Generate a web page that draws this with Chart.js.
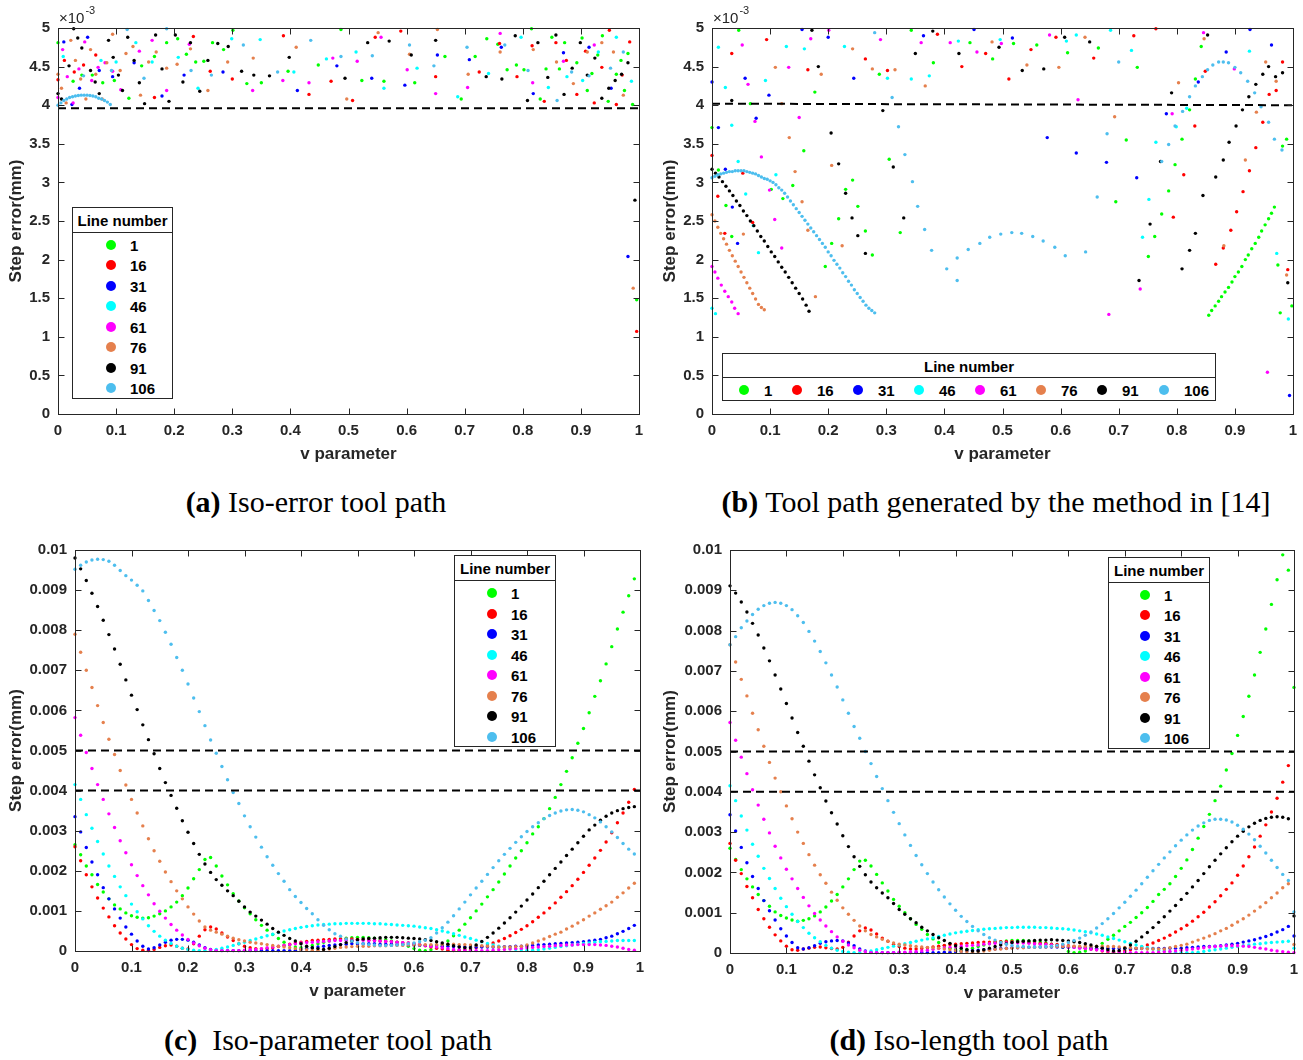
<!DOCTYPE html>
<html><head><meta charset="utf-8">
<script src="https://cdn.jsdelivr.net/npm/chart.js@4.4.1/dist/chart.umd.min.js"></script>
<style>
body{margin:0;background:#fff;width:1303px;height:1060px;position:relative;overflow:hidden;font-family:"Liberation Sans",Arial,sans-serif;}
canvas{position:absolute;}
.leg{position:absolute;background:#fff;border:1px solid #262626;box-sizing:border-box;font-weight:bold;font-size:15px;color:#000;}
.leg .hd{position:absolute;left:0;right:0;text-align:center;transform:translateY(-50%);white-space:nowrap;}
.leg .dv{position:absolute;left:0;right:0;border-top:1px solid #262626;}
.leg .mk{position:absolute;width:10px;height:10px;border-radius:50%;transform:translate(-50%,-50%);}
.leg .tx{position:absolute;transform:translateY(-50%);white-space:nowrap;}
.cap{position:absolute;font-family:"Liberation Serif","Times New Roman",serif;font-size:30px;transform:translate(-50%,-50%);white-space:nowrap;color:#000;}
</style></head><body>
<canvas id="ca" width="650" height="470" style="left:0;top:0"></canvas>
<canvas id="cb" width="653" height="470" style="left:650px;top:0"></canvas>
<canvas id="cc" width="650" height="480" style="left:0;top:530px"></canvas>
<canvas id="cd" width="653" height="480" style="left:650px;top:530px"></canvas>
<div class="cap" style="left:316px;top:502px"><b>(a)</b> Iso-error tool path</div>
<div class="cap" style="left:996px;top:502px"><b>(b)</b> Tool path generated by the method in [14]</div>
<div class="cap" style="left:328px;top:1040px"><b>(c)</b>&nbsp; Iso-parameter tool path</div>
<div class="cap" style="left:969px;top:1040px"><b>(d)</b> Iso-length tool path</div>
<script>
// ---------- shared categories ----------
const lineNumbers = ['1','16','31','46','61','76','91','106'];
const seriesColors = ['#00FF00','#FF0000','#0000FF','#00FFFF','#FF00FF','#E5804D','#000000','#4DBEEE'];
const legendTitle = 'Line number';
// v parameter sampling grid used by (c) and (d)
const vGrid = [0,.01,.02,.03,.04,.05,.06,.07,.08,.09,.1,.11,.12,.13,.14,.15,.16,.17,.18,.19,.2,.21,.22,.23,.24,.25,.26,.27,.28,.29,.3,.31,.32,.33,.34,.35,.36,.37,.38,.39,.4,.41,.42,.43,.44,.45,.46,.47,.48,.49,.5,.51,.52,.53,.54,.55,.56,.57,.58,.59,.6,.61,.62,.63,.64,.65,.66,.67,.68,.69,.7,.71,.72,.73,.74,.75,.76,.77,.78,.79,.8,.81,.82,.83,.84,.85,.86,.87,.88,.89,.9,.91,.92,.93,.94,.95,.96,.97,.98,.99,1];

// ---------- (a) Iso-error tool path : [v, step error (1e-3 mm)] ----------
const a_line1 = [[0,4.81],[.026,4.31],[.041,4.39],[.059,4.39],[.077,4.29],[.097,4.32],[.122,4.09],[.144,4.51],[.166,4.63],[.187,4.81],[.206,4.86],[.221,4.66],[.237,4.56],[.251,4.57],[.266,4.81],[.285,4.72],[.301,4.97],[.325,4.28],[.35,4.29],[.396,4.44],[.448,4.52],[.487,4.98],[.523,4.32],[.561,4.31],[.614,4.29],[.666,4.63],[.694,4.08],[.718,4.63],[.738,4.86],[.757,4.79],[.773,4.46],[.789,4.52],[.802,4.46],[.815,4.99],[.83,4.08],[.84,4.47],[.85,4.88],[.863,4.47],[.872,4.81],[.893,4.55],[.902,4.87],[.911,4.19],[.919,4.41],[.929,4.65],[.937,4.9],[.947,4.05],[.961,4.4],[.969,4.58],[.975,4.19],[.981,4.67],[.989,4.01],[.996,1.48]];
const a_line16 = [[0,4.33],[.011,4.58],[.028,4.43],[.044,4.52],[.065,4.65],[.166,4.1],[.233,4.89],[.262,4.44],[.3,4.34],[.388,4.9],[.432,4.14],[.47,4.31],[.507,4.06],[.546,4.88],[.59,4.96],[.65,4.37],[.725,4.43],[.76,4.8],[.79,4.37],[.816,4.77],[.837,4.05],[.857,4.81],[.875,4.58],[.893,4.14],[.908,4.7],[.923,4.03],[.936,4.49],[.949,4.97],[.961,4.01],[.971,4.39],[.984,4.82],[.996,1.07]];
const a_line31 = [[.01,4.82],[.024,4.01],[.037,4.22],[.051,4.88],[.071,4.45],[.094,4.37],[.131,4.55],[.179,4.12],[.217,4.39],[.284,4.43],[.412,4.19],[.48,4.51],[.54,4.35],[.597,4.26],[.653,4.65],[.708,4.59],[.763,4.75],[.818,4.15],[.87,4.68],[.914,4.75],[.952,4.22],[.981,2.04]];
const a_line46 = [[.009,4.63],[.074,4.58],[.1,4.56],[.134,4.81],[.162,4.56],[.207,4.62],[.241,4.22],[.299,4.86],[.348,4.85],[.406,4.43],[.462,4.6],[.513,4.69],[.561,4.22],[.618,4.48],[.688,4.11],[.741,4.41],[.797,4.88],[.844,4.23],[.876,4.37],[.903,4.32],[.93,4.69],[.961,4.88],[.987,4.31]];
const a_line61 = [[0,4.1],[.008,4.72],[.016,4.37],[.026,4.03],[.036,4.47],[.046,4.82],[.058,4.32],[.069,4.49],[.081,4.55],[.094,4.44],[.108,4.2],[.14,4.7],[.162,4.84],[.187,4.19],[.226,4.79],[.335,4.19],[.387,4.32],[.432,4.29],[.473,4.61],[.515,4.57],[.556,4.88],[.601,4.46],[.65,4.15],[.705,4.23],[.761,4.93],[.817,4.29],[.87,4.57],[.923,4.78]];
const a_line76 = [[0,4.4],[.006,4.22],[.014,4.03],[.022,4.84],[.03,4.58],[.039,4.34],[.048,4.08],[.056,4.72],[.065,4.4],[.076,4.08],[.084,4.55],[.094,4.92],[.107,4.45],[.117,4.67],[.129,4.76],[.142,4.13],[.156,4.56],[.169,4.69],[.187,4.48],[.205,4.53],[.228,4.73],[.258,4.19],[.292,4.56],[.336,4.61],[.41,4.75],[.497,4.08],[.551,4.94],[.605,4.66],[.653,4.98],[.706,4.4],[.761,4.69],[.818,4.72],[.858,4.56],[.887,4.28],[.911,4.69],[.936,4.81],[.956,4.69],[.973,4.13],[.99,1.63]];
const a_line91 = [[0,4.15],[.006,4.08],[.019,4.51],[.027,4.99],[.034,4.87],[.041,4.74],[.056,4.45],[.064,4.3],[.071,4.15],[.087,4.84],[.095,4.62],[.104,4.39],[.111,4.19],[.12,4.88],[.131,4.58],[.14,4.29],[.149,4.02],[.168,4.91],[.179,4.47],[.191,4.05],[.202,4.91],[.215,4.3],[.228,4.81],[.244,4.18],[.258,4.58],[.275,4.8],[.293,4.76],[.316,4.44],[.337,4.39],[.364,4.38],[.398,4.62],[.494,4.35],[.533,4.81],[.57,4.83],[.608,4.65],[.65,4.84],[.737,4.37],[.764,4.34],[.787,4.9],[.808,4.06],[.826,4.81],[.843,4.36],[.857,4.91],[.871,4.14],[.885,4.48],[.899,4.81],[.911,4.39],[.924,4.61],[.936,4.09],[.948,4.22],[.959,4.32],[.97,4.4],[.981,4.55],[.993,2.77]];
const a_line106 = [[0,4.0],[.005,4.03],[.01,4.06],[.015,4.08],[.02,4.1],[.025,4.11],[.03,4.12],[.035,4.125],[.04,4.13],[.045,4.13],[.05,4.13],[.055,4.125],[.06,4.12],[.065,4.11],[.07,4.09],[.075,4.08],[.08,4.06],[.085,4.04],[.09,4.01],[.044,4.38],[.092,4.45],[.119,4.98],[.148,4.35],[.187,4.99],[.229,4.45],[.264,4.39],[.319,4.78],[.378,4.43],[.435,4.84],[.487,4.63],[.541,4.64],[.605,4.78],[.647,4.51],[.704,4.75],[.769,4.78],[.809,4.45],[.859,4.06],[.884,4.43],[.914,4.38],[.951,4.48],[.973,4.69]];
const a_tolerance = 3.96;

// ---------- (b) Method in [14] : [v, step error (1e-3 mm)] ----------
const b_line1 = [[0,3.71],[.011,3.16],[.024,2.7],[.034,2.3],[.046,4.97],[.066,4.02],[.102,2.91],[.122,2.79],[.139,2.96],[.158,3.41],[.177,4.17],[.195,1.91],[.206,2.21],[.218,2.53],[.23,2.91],[.242,3.03],[.251,2.69],[.264,2.37],[.276,2.06],[.288,4.4],[.305,3.3],[.324,2.35],[.343,4.97],[.381,4.55],[.444,4.81],[.483,4.6],[.519,4.8],[.559,4.78],[.612,4.68],[.665,4.74],[.695,2.75],[.713,3.55],[.732,4.49],[.751,2.04],[.762,2.3],[.774,2.59],[.786,2.89],[.797,3.23],[.809,3.56],[.822,3.94],[.832,4.34],[.842,4.76],[.855,1.28],[.86,1.34],[.866,1.4],[.872,1.46],[.877,1.52],[.883,1.58],[.889,1.64],[.895,1.71],[.9,1.78],[.906,1.84],[.912,1.91],[.918,2.0],[.923,2.06],[.929,2.14],[.935,2.21],[.941,2.29],[.946,2.37],[.952,2.45],[.958,2.53],[.963,2.6],[.968,2.68],[.974,1.93],[.978,1.31],[.982,3.47],[.989,3.56],[.998,1.4]];
const b_line16 = [[0,3.35],[.01,2.82],[.022,2.34],[.034,4.67],[.053,3.12],[.07,2.48],[.094,4.85],[.165,4.46],[.264,4.6],[.302,4.45],[.388,4.92],[.43,4.5],[.471,4.67],[.511,4.34],[.549,4.72],[.592,4.88],[.657,4.61],[.726,4.9],[.764,4.99],[.794,2.55],[.812,3.1],[.831,3.73],[.849,4.44],[.867,1.94],[.88,2.15],[.893,2.38],[.903,2.62],[.914,2.88],[.925,3.15],[.936,3.45],[.948,3.78],[.959,4.14],[.971,4.19],[.982,4.56],[.991,1.87]];
const b_line31 = [[0,4.3],[.011,3.71],[.023,3.17],[.035,2.68],[.044,2.21],[.057,4.35],[.076,3.83],[.098,4.13],[.155,4.98],[.2,4.88],[.244,4.35],[.364,4.9],[.451,4.98],[.517,4.87],[.577,3.58],[.627,3.38],[.679,3.26],[.731,3.06],[.782,3.89],[.837,4.3],[.885,4.69],[.926,4.98],[.963,4.78],[.994,0.24]];
const b_line46 = [[0,1.37],[.006,1.3],[.011,4.75],[.023,4.23],[.034,3.74],[.045,3.27],[.058,2.85],[.071,2.44],[.08,2.09],[.092,4.32],[.11,3.1],[.128,4.76],[.159,4.73],[.228,4.76],[.302,4.35],[.343,4.34],[.374,4.38],[.424,4.83],[.496,4.85],[.61,4.83],[.627,4.91],[.686,4.97],[.722,4.71],[.741,2.29],[.752,2.78],[.764,3.52],[.799,3.72],[.817,3.96],[.925,4.7],[.972,2.08],[.992,1.23]];
const b_line61 = [[0,1.91],[.005,1.84],[.01,1.76],[.016,1.67],[.022,1.59],[.028,1.52],[.034,1.45],[.039,1.37],[.045,1.3],[.052,4.78],[.062,4.27],[.074,3.79],[.085,3.33],[.099,2.9],[.108,2.52],[.12,2.15],[.132,4.49],[.15,3.84],[.17,4.86],[.201,4.97],[.29,4.85],[.36,4.81],[.41,4.81],[.456,4.69],[.498,4.8],[.581,4.91],[.63,4.07],[.683,1.29],[.737,1.62],[.792,3.89],[.846,4.94],[.899,4.47],[.956,0.54]];
const b_line76 = [[0,2.58],[.005,2.5],[.01,2.42],[.015,2.34],[.02,2.27],[.025,2.2],[.03,2.12],[.035,2.05],[.04,1.98],[.045,1.91],[.05,1.84],[.055,1.77],[.06,1.7],[.065,1.63],[.07,1.56],[.075,1.49],[.08,1.42],[.085,1.38],[.09,1.35],[.054,2.33],[.109,4.49],[.12,4.02],[.133,3.58],[.143,3.14],[.155,2.75],[.165,2.38],[.178,1.52],[.188,4.4],[.206,3.22],[.224,2.18],[.242,4.73],[.276,4.47],[.315,4.46],[.367,4.25],[.482,4.82],[.542,4.52],[.597,4.49],[.642,4.88],[.693,3.85],[.803,4.29],[.847,4.86],[.881,2.18],[.918,3.29],[.937,3.91],[.953,4.56],[.971,4.31],[.989,1.8]];
const b_line91 = [[0,3.17],[.006,3.12],[.012,3.07],[.018,3.01],[.024,2.95],[.03,2.89],[.036,2.83],[.042,2.76],[.048,2.7],[.054,2.63],[.06,2.57],[.066,2.5],[.072,2.44],[.078,2.37],[.084,2.3],[.09,2.24],[.096,2.17],[.102,2.1],[.108,2.04],[.114,1.97],[.12,1.9],[.126,1.84],[.132,1.77],[.138,1.7],[.144,1.63],[.15,1.56],[.156,1.49],[.162,1.41],[.167,1.33],[.034,4.06],[.172,4.97],[.183,4.5],[.205,3.64],[.218,3.24],[.23,2.86],[.241,2.54],[.251,2.31],[.264,2.08],[.294,3.93],[.312,3.2],[.33,2.54],[.35,4.67],[.38,4.96],[.425,4.67],[.494,4.75],[.534,4.45],[.571,4.47],[.607,4.88],[.65,4.82],[.735,1.73],[.754,2.46],[.772,3.27],[.791,4.16],[.809,1.88],[.822,2.12],[.832,2.34],[.845,2.83],[.853,4.91],[.867,3.07],[.88,3.29],[.89,3.52],[.902,3.73],[.913,3.94],[.924,4.11],[.936,4.27],[.948,4.4],[.958,4.5],[.97,4.37],[.982,4.42],[.991,1.7]];
const b_line106 = [[0,3.06],[.005,3.08],[.01,3.1],[.015,3.11],[.02,3.12],[.025,3.13],[.03,3.14],[.035,3.14],[.04,3.15],[.045,3.15],[.05,3.15],[.055,3.15],[.06,3.14],[.065,3.13],[.07,3.12],[.075,3.11],[.08,3.09],[.085,3.07],[.09,3.05],[.095,3.04],[.1,3.02],[.105,3.0],[.11,2.97],[.115,2.93],[.12,2.9],[.125,2.86],[.13,2.81],[.135,2.76],[.14,2.71],[.145,2.66],[.15,2.61],[.155,2.56],[.16,2.51],[.165,2.46],[.17,2.41],[.175,2.36],[.18,2.31],[.185,2.26],[.19,2.21],[.195,2.16],[.2,2.1],[.205,2.05],[.21,1.99],[.215,1.94],[.22,1.89],[.225,1.83],[.23,1.78],[.235,1.72],[.24,1.67],[.245,1.61],[.25,1.56],[.255,1.51],[.26,1.46],[.265,1.41],[.27,1.37],[.275,1.34],[.28,1.31],[.28,4.94],[.31,4.1],[.321,3.72],[.332,3.36],[.345,3.01],[.354,2.69],[.366,2.39],[.378,2.12],[.404,1.88],[.422,1.73],[.422,2.02],[.441,2.13],[.461,2.21],[.478,2.29],[.497,2.33],[.516,2.35],[.533,2.34],[.552,2.3],[.57,2.24],[.59,2.16],[.608,2.05],[.643,2.1],[.663,2.81],[.68,3.63],[.7,4.56],[.774,3.27],[.786,3.49],[.797,3.73],[.81,3.92],[.822,4.11],[.832,4.25],[.844,4.37],[.853,4.46],[.862,4.52],[.872,4.56],[.88,4.56],[.889,4.55],[.9,4.49],[.91,4.42],[.922,4.31],[.934,4.16],[.945,3.98],[.958,3.78],[.968,3.56],[.981,3.42]];
const b_tolerance = [4.02, 4.0];

// ---------- (c) Iso-parameter tool path : step error (1e-3 mm) at vGrid ----------
const c_line1 = [2.65,2.4,2.12,1.9,1.66,1.47,1.3,1.15,1.05,0.95, 0.88,0.84,0.82,0.83,0.87,0.93,1.0,1.1,1.22,1.38, 1.57,1.8,2.03,2.28,2.33,2.12,1.87,1.65,1.43,1.25, 1.08,0.93,0.78,0.64,0.52,0.41,0.31,0.22,0.15,0.1, 0.08,0.1,0.14,0.18,0.22,0.25,0.28,0.3,0.32,0.33, 0.34,0.34,0.33,0.32,0.3,0.28,0.25,0.22,0.18,0.12, 0.06,0.02,0.01,0.03,0.08,0.15,0.25,0.38,0.52,0.67, 0.83,1.0,1.17,1.35,1.53,1.72,1.92,2.12,2.32,2.5, 2.7,2.92,3.1,3.3,3.55,3.83,4.15,4.48,4.82,5.18, 5.55,5.94,6.35,6.74,7.16,7.59,8.03,8.45,8.86,9.28];
const c_line16 = [2.6,2.25,1.9,1.6,1.32,1.07,0.85,0.63,0.45,0.3, 0.16,0.06,0.02,0.01,0.04,0.09,0.13,0.15,0.12,0.07, 0.05,0.18,0.37,0.53,0.6,0.55,0.45,0.35,0.26,0.18, 0.12,0.08,0.06,0.05,0.06,0.08,0.11,0.14,0.17,0.2, 0.22,0.24,0.26,0.27,0.28,0.29,0.3,0.3,0.3,0.3, 0.29,0.28,0.27,0.26,0.25,0.24,0.23,0.22,0.21,0.2, 0.18,0.16,0.13,0.1,0.07,0.05,0.02,0.01,0.02,0.03, 0.05,0.08,0.11,0.15,0.2,0.25,0.31,0.38,0.46,0.54, 0.63,0.73,0.84,0.95,1.07,1.2,1.34,1.48,1.63,1.79, 1.96,2.14,2.32,2.51,2.72,2.95,3.2,3.44,3.71,4.03];
const c_line31 = [3.35,2.97,2.58,2.22,1.9,1.58,1.3,1.05,0.82,0.6, 0.42,0.25,0.12,0.05,0.08,0.15,0.22,0.27,0.29,0.29, 0.27,0.22,0.15,0.08,0.04,0.02,0.01,0.01,0.01,0.01, 0.01,0.01,0.01,0.01,0.01,0.01,0.01,0.01,0.01,0.02, 0.04,0.06,0.08,0.1,0.12,0.14,0.15,0.16,0.17,0.18, 0.18,0.18,0.18,0.18,0.17,0.17,0.17,0.16,0.16,0.15, 0.15,0.14,0.14,0.13,0.13,0.12,0.12,0.11,0.11,0.1, 0.1,0.1,0.1,0.1,0.1,0.1,0.11,0.11,0.12,0.12, 0.13,0.14,0.15,0.16,0.17,0.18,0.19,0.2,0.21,0.22, 0.23,0.25,0.27,0.29,0.33,0.37,0.43,0.49,0.56,0.64];
const c_line46 = [4.15,3.78,3.4,3.06,2.73,2.42,2.12,1.86,1.6,1.38, 1.17,0.98,0.8,0.63,0.49,0.37,0.27,0.19,0.12,0.07, 0.04,0.02,0.01,0.01,0.02,0.04,0.07,0.1,0.14,0.18, 0.22,0.26,0.3,0.34,0.38,0.42,0.46,0.5,0.53,0.56, 0.59,0.61,0.63,0.65,0.66,0.67,0.68,0.68,0.69,0.69, 0.69,0.69,0.69,0.68,0.68,0.67,0.66,0.65,0.64,0.63, 0.62,0.6,0.58,0.56,0.53,0.5,0.47,0.43,0.39,0.35, 0.31,0.27,0.23,0.19,0.15,0.12,0.09,0.06,0.04,0.03, 0.02,0.02,0.03,0.05,0.07,0.09,0.11,0.13,0.15,0.17, 0.19,0.2,0.22,0.23,0.24,0.25,0.26,0.26,0.26,0.26];
const c_line61 = [5.82,5.38,4.95,4.55,4.15,3.78,3.42,3.08,2.75,2.45, 2.15,1.88,1.63,1.4,1.18,0.99,0.82,0.66,0.52,0.4, 0.29,0.2,0.13,0.07,0.03,0.01,0.01,0.01,0.01,0.01, 0.02,0.03,0.04,0.06,0.08,0.1,0.12,0.14,0.16,0.18, 0.2,0.21,0.22,0.23,0.24,0.25,0.26,0.26,0.27,0.27, 0.27,0.27,0.26,0.26,0.25,0.24,0.23,0.22,0.21,0.2, 0.18,0.16,0.14,0.12,0.1,0.08,0.06,0.04,0.03,0.02, 0.01,0.01,0.01,0.01,0.02,0.03,0.04,0.05,0.06,0.07, 0.08,0.09,0.1,0.11,0.12,0.13,0.14,0.15,0.15,0.16, 0.16,0.16,0.16,0.15,0.14,0.12,0.1,0.07,0.04,0.02];
const c_line76 = [7.9,7.45,7.0,6.57,6.12,5.7,5.28,4.9,4.5,4.14, 3.78,3.44,3.12,2.8,2.5,2.24,1.97,1.73,1.5,1.3, 1.1,0.92,0.75,0.6,0.52,0.47,0.42,0.37,0.32,0.28, 0.25,0.22,0.2,0.18,0.16,0.14,0.12,0.1,0.08,0.06, 0.04,0.03,0.02,0.02,0.03,0.05,0.07,0.09,0.1,0.11, 0.12,0.12,0.12,0.13,0.13,0.13,0.14,0.14,0.14,0.15, 0.15,0.15,0.16,0.16,0.16,0.17,0.17,0.17,0.16,0.16, 0.15,0.14,0.13,0.12,0.11,0.1,0.1,0.1,0.11,0.12, 0.15,0.2,0.25,0.3,0.36,0.42,0.47,0.55,0.62,0.7, 0.78,0.87,0.95,1.04,1.13,1.22,1.34,1.45,1.57,1.69];
const c_line91 = [9.8,9.53,9.24,8.92,8.59,8.25,7.89,7.53,7.15,6.76, 6.38,6.02,5.64,5.27,4.92,4.55,4.2,3.88,3.56,3.25, 2.96,2.68,2.41,2.17,1.96,1.78,1.64,1.5,1.38,1.24, 1.1,0.97,0.87,0.77,0.67,0.56,0.47,0.39,0.31,0.25, 0.18,0.12,0.08,0.06,0.04,0.07,0.11,0.16,0.21,0.25, 0.28,0.3,0.31,0.32,0.33,0.34,0.34,0.34,0.33,0.32, 0.31,0.3,0.28,0.26,0.23,0.2,0.17,0.13,0.1,0.08, 0.08,0.15,0.24,0.34,0.45,0.57,0.7,0.83,0.97,1.12, 1.27,1.42,1.58,1.74,1.9,2.06,2.22,2.38,2.54,2.7, 2.86,3.02,3.14,3.26,3.36,3.44,3.5,3.55,3.58,3.6];
const c_line106 = [9.52,9.62,9.7,9.75,9.77,9.76,9.72,9.62,9.49,9.36, 9.25,9.12,8.98,8.74,8.49,8.24,7.95,7.65,7.32,7.0, 6.66,6.31,5.97,5.62,5.26,4.93,4.6,4.27,3.95,3.68, 3.37,3.1,2.84,2.59,2.35,2.14,1.93,1.74,1.53,1.36, 1.21,1.06,0.93,0.78,0.64,0.53,0.43,0.37,0.3,0.25, 0.21,0.18,0.16,0.15,0.14,0.14,0.14,0.15,0.16,0.18, 0.2,0.23,0.27,0.33,0.45,0.58,0.72,0.88,1.05,1.22, 1.4,1.57,1.74,1.91,2.08,2.25,2.41,2.56,2.71,2.85, 2.98,3.1,3.2,3.3,3.38,3.44,3.49,3.52,3.53,3.51, 3.47,3.4,3.32,3.22,3.1,2.97,2.83,2.68,2.54,2.42];
const c_tolerances = [5, 4];

// ---------- (d) Iso-length tool path : step error (1e-3 mm) at vGrid ----------
const d_line1 = [2.6,2.32,2.07,1.84,1.64,1.45,1.3,1.16,1.02,0.93, 0.87,0.82,0.79,0.81,0.85,0.92,1.02,1.14,1.29,1.45, 1.64,1.84,2.07,2.28,2.3,2.16,1.95,1.74,1.54,1.33, 1.16,1.0,0.85,0.71,0.59,0.46,0.35,0.26,0.18,0.12, 0.08,0.07,0.09,0.12,0.16,0.2,0.23,0.26,0.28,0.3, 0.31,0.31,0.31,0.3,0.29,0.27,0.25,0.22,0.18,0.14, 0.04,0.01,0.02,0.05,0.1,0.16,0.24,0.34,0.44,0.55, 0.66,0.76,0.88,1.0,1.13,1.28,1.45,1.58,1.72,1.9, 2.1,2.31,2.57,2.85,3.14,3.44,3.78,4.14,4.54,4.95, 5.4,5.87,6.37,6.9,7.46,8.04,8.65,9.26,9.88,9.5, 6.59];
const d_line16 = [2.72,2.3,1.97,1.65,1.37,1.08,0.85,0.64,0.45,0.3, 0.17,0.08,0.07,0.1,0.12,0.14,0.15,0.13,0.11,0.1, 0.14,0.27,0.42,0.55,0.62,0.57,0.47,0.37,0.29,0.22, 0.16,0.12,0.1,0.1,0.11,0.13,0.15,0.17,0.19,0.21, 0.22,0.23,0.24,0.25,0.26,0.27,0.27,0.28,0.28,0.28, 0.28,0.27,0.27,0.26,0.25,0.24,0.23,0.22,0.21,0.2, 0.18,0.16,0.14,0.12,0.1,0.08,0.05,0.03,0.02,0.03, 0.05,0.08,0.11,0.15,0.2,0.25,0.31,0.37,0.44,0.52, 0.6,0.69,0.79,0.9,1.01,1.14,1.27,1.42,1.58,1.74, 1.93,2.16,2.39,2.63,2.9,3.18,3.5,3.84,4.24,4.65];
const d_line31 = [3.43,3.03,2.62,2.24,1.9,1.6,1.3,1.05,0.82,0.6, 0.42,0.26,0.13,0.1,0.13,0.18,0.24,0.28,0.3,0.31, 0.3,0.25,0.18,0.1,0.05,0.02,0.01,0.01,0.01,0.01, 0.01,0.01,0.01,0.01,0.01,0.01,0.01,0.01,0.02,0.02, 0.03,0.04,0.05,0.06,0.07,0.08,0.09,0.1,0.11,0.12, 0.13,0.13,0.14,0.14,0.15,0.15,0.15,0.15,0.15,0.14, 0.14,0.14,0.13,0.13,0.13,0.12,0.12,0.12,0.11,0.11, 0.11,0.11,0.11,0.11,0.11,0.11,0.11,0.11,0.12,0.12, 0.12,0.13,0.14,0.15,0.16,0.16,0.17,0.18,0.2,0.22, 0.24,0.27,0.3,0.33,0.37,0.41,0.46,0.52,0.58,0.66, 0.42];
const d_line46 = [4.15,3.78,3.4,3.05,2.7,2.4,2.1,1.85,1.6,1.36, 1.15,0.96,0.78,0.63,0.49,0.38,0.28,0.19,0.12,0.07, 0.04,0.02,0.01,0.01,0.03,0.05,0.08,0.11,0.14,0.17, 0.2,0.23,0.26,0.29,0.32,0.35,0.38,0.41,0.44,0.47, 0.5,0.52,0.54,0.56,0.58,0.59,0.6,0.61,0.62,0.63, 0.63,0.64,0.64,0.64,0.64,0.63,0.63,0.62,0.61,0.6, 0.59,0.57,0.55,0.53,0.5,0.47,0.44,0.4,0.36,0.32, 0.28,0.24,0.2,0.16,0.13,0.1,0.07,0.05,0.03,0.02, 0.01,0.01,0.01,0.02,0.04,0.06,0.08,0.1,0.12,0.14, 0.16,0.18,0.2,0.22,0.23,0.25,0.26,0.27,0.28,0.29, 0.12];
const d_line61 = [5.72,5.28,4.86,4.45,4.05,3.67,3.32,2.98,2.65,2.36, 2.08,1.84,1.6,1.38,1.17,0.98,0.82,0.67,0.53,0.4, 0.29,0.2,0.13,0.07,0.03,0.01,0.01,0.01,0.01,0.01, 0.02,0.02,0.03,0.04,0.05,0.07,0.09,0.11,0.13,0.14, 0.15,0.17,0.18,0.19,0.2,0.22,0.23,0.24,0.24,0.25, 0.25,0.25,0.25,0.24,0.23,0.22,0.21,0.2,0.18,0.17, 0.15,0.14,0.12,0.11,0.09,0.08,0.06,0.05,0.04,0.03, 0.02,0.01,0.01,0.01,0.01,0.01,0.02,0.03,0.04,0.05, 0.07,0.08,0.1,0.11,0.13,0.15,0.16,0.17,0.18,0.18, 0.18,0.17,0.16,0.14,0.12,0.1,0.07,0.05,0.03,0.02, 0.01];
const d_line76 = [7.65,7.22,6.79,6.38,5.95,5.54,5.13,4.73,4.34,4.0, 3.65,3.33,3.0,2.72,2.44,2.18,1.94,1.73,1.51,1.31, 1.12,0.96,0.81,0.67,0.55,0.46,0.4,0.34,0.29,0.25, 0.22,0.2,0.18,0.16,0.15,0.14,0.13,0.12,0.1,0.08, 0.06,0.04,0.03,0.02,0.03,0.05,0.07,0.09,0.1,0.11, 0.12,0.13,0.13,0.14,0.14,0.15,0.15,0.16,0.16,0.16, 0.17,0.17,0.17,0.17,0.17,0.17,0.17,0.16,0.16,0.15, 0.14,0.13,0.12,0.11,0.1,0.1,0.1,0.1,0.13,0.16, 0.19,0.22,0.27,0.32,0.37,0.42,0.48,0.55,0.61,0.69, 0.77,0.85,0.94,1.04,1.14,1.25,1.37,1.49,1.62,1.72, 0.21];
const d_line91 = [9.11,8.93,8.71,8.46,8.18,7.89,7.57,7.25,6.9,6.55, 6.19,5.83,5.47,5.13,4.76,4.42,4.1,3.77,3.48,3.2, 2.91,2.64,2.39,2.15,1.94,1.76,1.62,1.49,1.37,1.23, 1.08,0.96,0.85,0.75,0.64,0.55,0.46,0.38,0.31,0.24, 0.18,0.12,0.08,0.05,0.05,0.08,0.12,0.16,0.2,0.23, 0.26,0.28,0.29,0.3,0.31,0.32,0.32,0.33,0.32,0.31, 0.3,0.28,0.26,0.23,0.2,0.16,0.12,0.08,0.05,0.06, 0.12,0.2,0.29,0.4,0.51,0.63,0.76,0.9,1.04,1.18, 1.33,1.48,1.64,1.8,1.97,2.14,2.3,2.46,2.61,2.76, 2.9,3.02,3.13,3.22,3.29,3.34,3.37,3.38,3.37,3.33, 0.92];
const d_line106 = [7.65,7.85,8.07,8.24,8.4,8.53,8.62,8.68,8.7,8.68, 8.62,8.52,8.37,8.2,7.98,7.74,7.48,7.2,6.9,6.6, 6.28,5.95,5.62,5.33,5.0,4.7,4.38,4.08,3.78,3.49, 3.21,2.93,2.67,2.42,2.19,1.97,1.76,1.57,1.39,1.22, 1.06,0.91,0.78,0.66,0.55,0.46,0.38,0.32,0.26,0.22, 0.19,0.17,0.16,0.15,0.15,0.15,0.16,0.17,0.19,0.22, 0.26,0.31,0.37,0.44,0.52,0.62,0.73,0.85,0.98,1.12, 1.26,1.41,1.56,1.72,1.88,2.04,2.2,2.36,2.51,2.66, 2.8,2.93,3.05,3.15,3.23,3.29,3.32,3.32,3.3,3.25, 3.17,3.07,2.95,2.81,2.65,2.48,2.3,2.12,1.95,1.8, 1.02];
const d_tolerances = [5, 4];

// ---------- helpers ----------
const FF = '"Liberation Sans", Arial, sans-serif';
const INK = '#262626';
const fmtX = v => Math.abs(v) < 1e-9 ? '0' : Math.abs(v - 1) < 1e-9 ? '1' : v.toFixed(1);
const fmtYab = v => Math.abs(v - Math.round(v)) < 1e-9 ? String(Math.round(v)) : v.toFixed(1);
const fmtYcd = v => Math.abs(v) < 1e-9 ? '0' : Math.abs(v - 10) < 1e-9 ? '0.01' : (v / 1000).toFixed(3);

const pairsToPts = arr => arr.map(([x, y]) => ({x, y}));
const gridToPts = arr => arr.map((y, i) => ({x: vGrid[i], y}));

function scatterSet(points, i) {
  return {label: lineNumbers[i], data: points, backgroundColor: seriesColors[i], borderColor: seriesColors[i],
    pointRadius: 1.7, pointBorderWidth: 0, pointHoverRadius: 0, showLine: false, order: 10 - i, clip: false};
}
function dashSet(y0, y1) {
  return {label: 'tol', data: [{x: 0, y: y0}, {x: 1, y: y1}], showLine: true, borderColor: '#000', borderWidth: 2,
    borderDash: [8, 5], pointRadius: 0, pointHoverRadius: 0, order: 0, fill: false, clip: false};
}

const framePlugin = {
  id: 'frame',
  afterDraw(chart, args, opts) {
    const {ctx, chartArea: a, scales: {x, y}} = chart;
    ctx.save();
    ctx.strokeStyle = INK; ctx.lineWidth = 1;
    const L = Math.round(a.left) + 0.5, R = Math.round(a.right) + 0.5, T = Math.round(a.top) + 0.5, B = Math.round(a.bottom) + 0.5;
    ctx.strokeRect(L, T, R - L, B - T);
    const tl = 6;
    ctx.beginPath();
    x.ticks.forEach(t => { const px = Math.round(x.getPixelForValue(t.value)) + 0.5;
      ctx.moveTo(px, B); ctx.lineTo(px, B - tl); ctx.moveTo(px, T); ctx.lineTo(px, T + tl); });
    y.ticks.forEach(t => { const py = Math.round(y.getPixelForValue(t.value)) + 0.5;
      ctx.moveTo(L, py); ctx.lineTo(L + tl, py); ctx.moveTo(R, py); ctx.lineTo(R - tl, py); });
    ctx.stroke();
    if (opts && opts.exp) {
      ctx.fillStyle = INK; ctx.textBaseline = 'alphabetic'; ctx.textAlign = 'left';
      ctx.font = '15px ' + FF;
      const base = a.top - 5;
      ctx.fillText('\u00d710', a.left + 1, base);
      const w = ctx.measureText('\u00d710').width;
      ctx.font = '11px ' + FF;
      ctx.fillText('-3', a.left + 1 + w + 1, base - 9);
    }
    ctx.restore();
  }
};

function makeChart(id, datasets, o) {
  return new Chart(document.getElementById(id), {
    type: 'scatter',
    data: {datasets},
    options: {
      responsive: false, animation: false, devicePixelRatio: 1, events: [],
      layout: {padding: o.pad},
      plugins: {legend: {display: false}, tooltip: {enabled: false}, frame: {exp: o.exp}},
      scales: {
        x: {type: 'linear', min: 0, max: 1,
          ticks: {stepSize: 0.1, autoSkip: false, maxRotation: 0, padding: 0, color: INK,
            font: {family: FF, size: 15, weight: 'bold'}, callback: fmtX},
          grid: {display: false}, border: {display: false},
          title: {display: true, text: 'v parameter', color: INK, font: {family: FF, size: 17, weight: 'bold'},
            padding: {top: 0, bottom: o.xTitlePad}},
          afterFit(s) { s.height = o.xH; }},
        y: {type: 'linear', min: 0, max: o.yMax,
          ticks: {stepSize: o.yStep, autoSkip: false, padding: 0, color: INK,
            font: {family: FF, size: 15, weight: 'bold'}, callback: o.yFmt},
          grid: {display: false}, border: {display: false},
          title: {display: true, text: 'Step error(mm)', color: INK, font: {family: FF, size: 17, weight: 'bold'},
            padding: {top: o.yTitlePad, bottom: 0}},
          afterFit(s) { s.width = o.yW; }}
      }
    },
    plugins: [framePlugin]
  });
}

const aSeries = [a_line1, a_line16, a_line31, a_line46, a_line61, a_line76, a_line91, a_line106];
const bSeries = [b_line1, b_line16, b_line31, b_line46, b_line61, b_line76, b_line91, b_line106];
const cSeries = [c_line1, c_line16, c_line31, c_line46, c_line61, c_line76, c_line91, c_line106];
const dSeries = [d_line1, d_line16, d_line31, d_line46, d_line61, d_line76, d_line91, d_line106];

makeChart('ca', [...aSeries.map((s, i) => scatterSet(pairsToPts(s), i)), dashSet(a_tolerance, a_tolerance)],
  {pad: {top: 28, right: 11, left: 0, bottom: 0}, yW: 58, xH: 56, yMax: 5, yStep: 0.5, yFmt: fmtYab, xTitlePad: 5, yTitlePad: 6, exp: true});
makeChart('cb', [...bSeries.map((s, i) => scatterSet(pairsToPts(s), i)), dashSet(b_tolerance[0], b_tolerance[1])],
  {pad: {top: 28, right: 10, left: 0, bottom: 0}, yW: 62, xH: 56, yMax: 5, yStep: 0.5, yFmt: fmtYab, xTitlePad: 5, yTitlePad: 10, exp: true});
makeChart('cc', [...cSeries.map((s, i) => scatterSet(gridToPts(s), i)), ...c_tolerances.map(t => dashSet(t, t))],
  {pad: {top: 20, right: 10, left: 0, bottom: 0}, yW: 75, xH: 59, yMax: 10, yStep: 1, yFmt: fmtYcd, xTitlePad: 8, yTitlePad: 6, exp: false});
makeChart('cd', [...dSeries.map((s, i) => scatterSet(gridToPts(s), i)), ...d_tolerances.map(t => dashSet(t, t))],
  {pad: {top: 20, right: 9, left: 0, bottom: 0}, yW: 80, xH: 57, yMax: 10, yStep: 1, yFmt: fmtYcd, xTitlePad: 6, yTitlePad: 10, exp: false});

// ---------- legends (HTML, built from the category arrays) ----------
function verticalLegend(box) {
  const el = document.createElement('div');
  el.className = 'leg';
  Object.assign(el.style, {left: box.left + 'px', top: box.top + 'px', width: box.w + 'px', height: box.h + 'px'});
  el.innerHTML = `<div class="hd" style="top:${box.titleY}px">${legendTitle}</div><div class="dv" style="top:${box.divY}px"></div>`;
  lineNumbers.forEach((lab, i) => {
    const yy = box.row0 + i * box.rowStep;
    el.innerHTML += `<div class="mk" style="left:${box.mx}px;top:${yy}px;background:${seriesColors[i]}"></div>` +
      `<div class="tx" style="left:${box.tx}px;top:${yy}px">${lab}</div>`;
  });
  document.body.appendChild(el);
}
verticalLegend({left: 72, top: 207, w: 101, h: 192, titleY: 12, divY: 24, row0: 36.5, rowStep: 20.5, mx: 38, tx: 57});
verticalLegend({left: 454, top: 555, w: 102, h: 192, titleY: 12, divY: 24, row0: 37, rowStep: 20.5, mx: 37, tx: 56});
verticalLegend({left: 1108, top: 557, w: 102, h: 192, titleY: 12, divY: 24, row0: 36.5, rowStep: 20.5, mx: 36, tx: 55});

(function horizontalLegend() {
  const el = document.createElement('div');
  el.className = 'leg';
  Object.assign(el.style, {left: '722px', top: '353px', width: '494px', height: '48px'});
  el.innerHTML = `<div class="hd" style="top:12px">${legendTitle}</div><div class="dv" style="top:23px"></div>`;
  const mks = [21, 74, 135, 196, 257, 318, 379, 441];
  lineNumbers.forEach((lab, i) => {
    el.innerHTML += `<div class="mk" style="left:${mks[i]}px;top:36px;background:${seriesColors[i]}"></div>` +
      `<div class="tx" style="left:${mks[i] + 20}px;top:36px">${lab}</div>`;
  });
  document.body.appendChild(el);
})();
</script>
</body></html>
